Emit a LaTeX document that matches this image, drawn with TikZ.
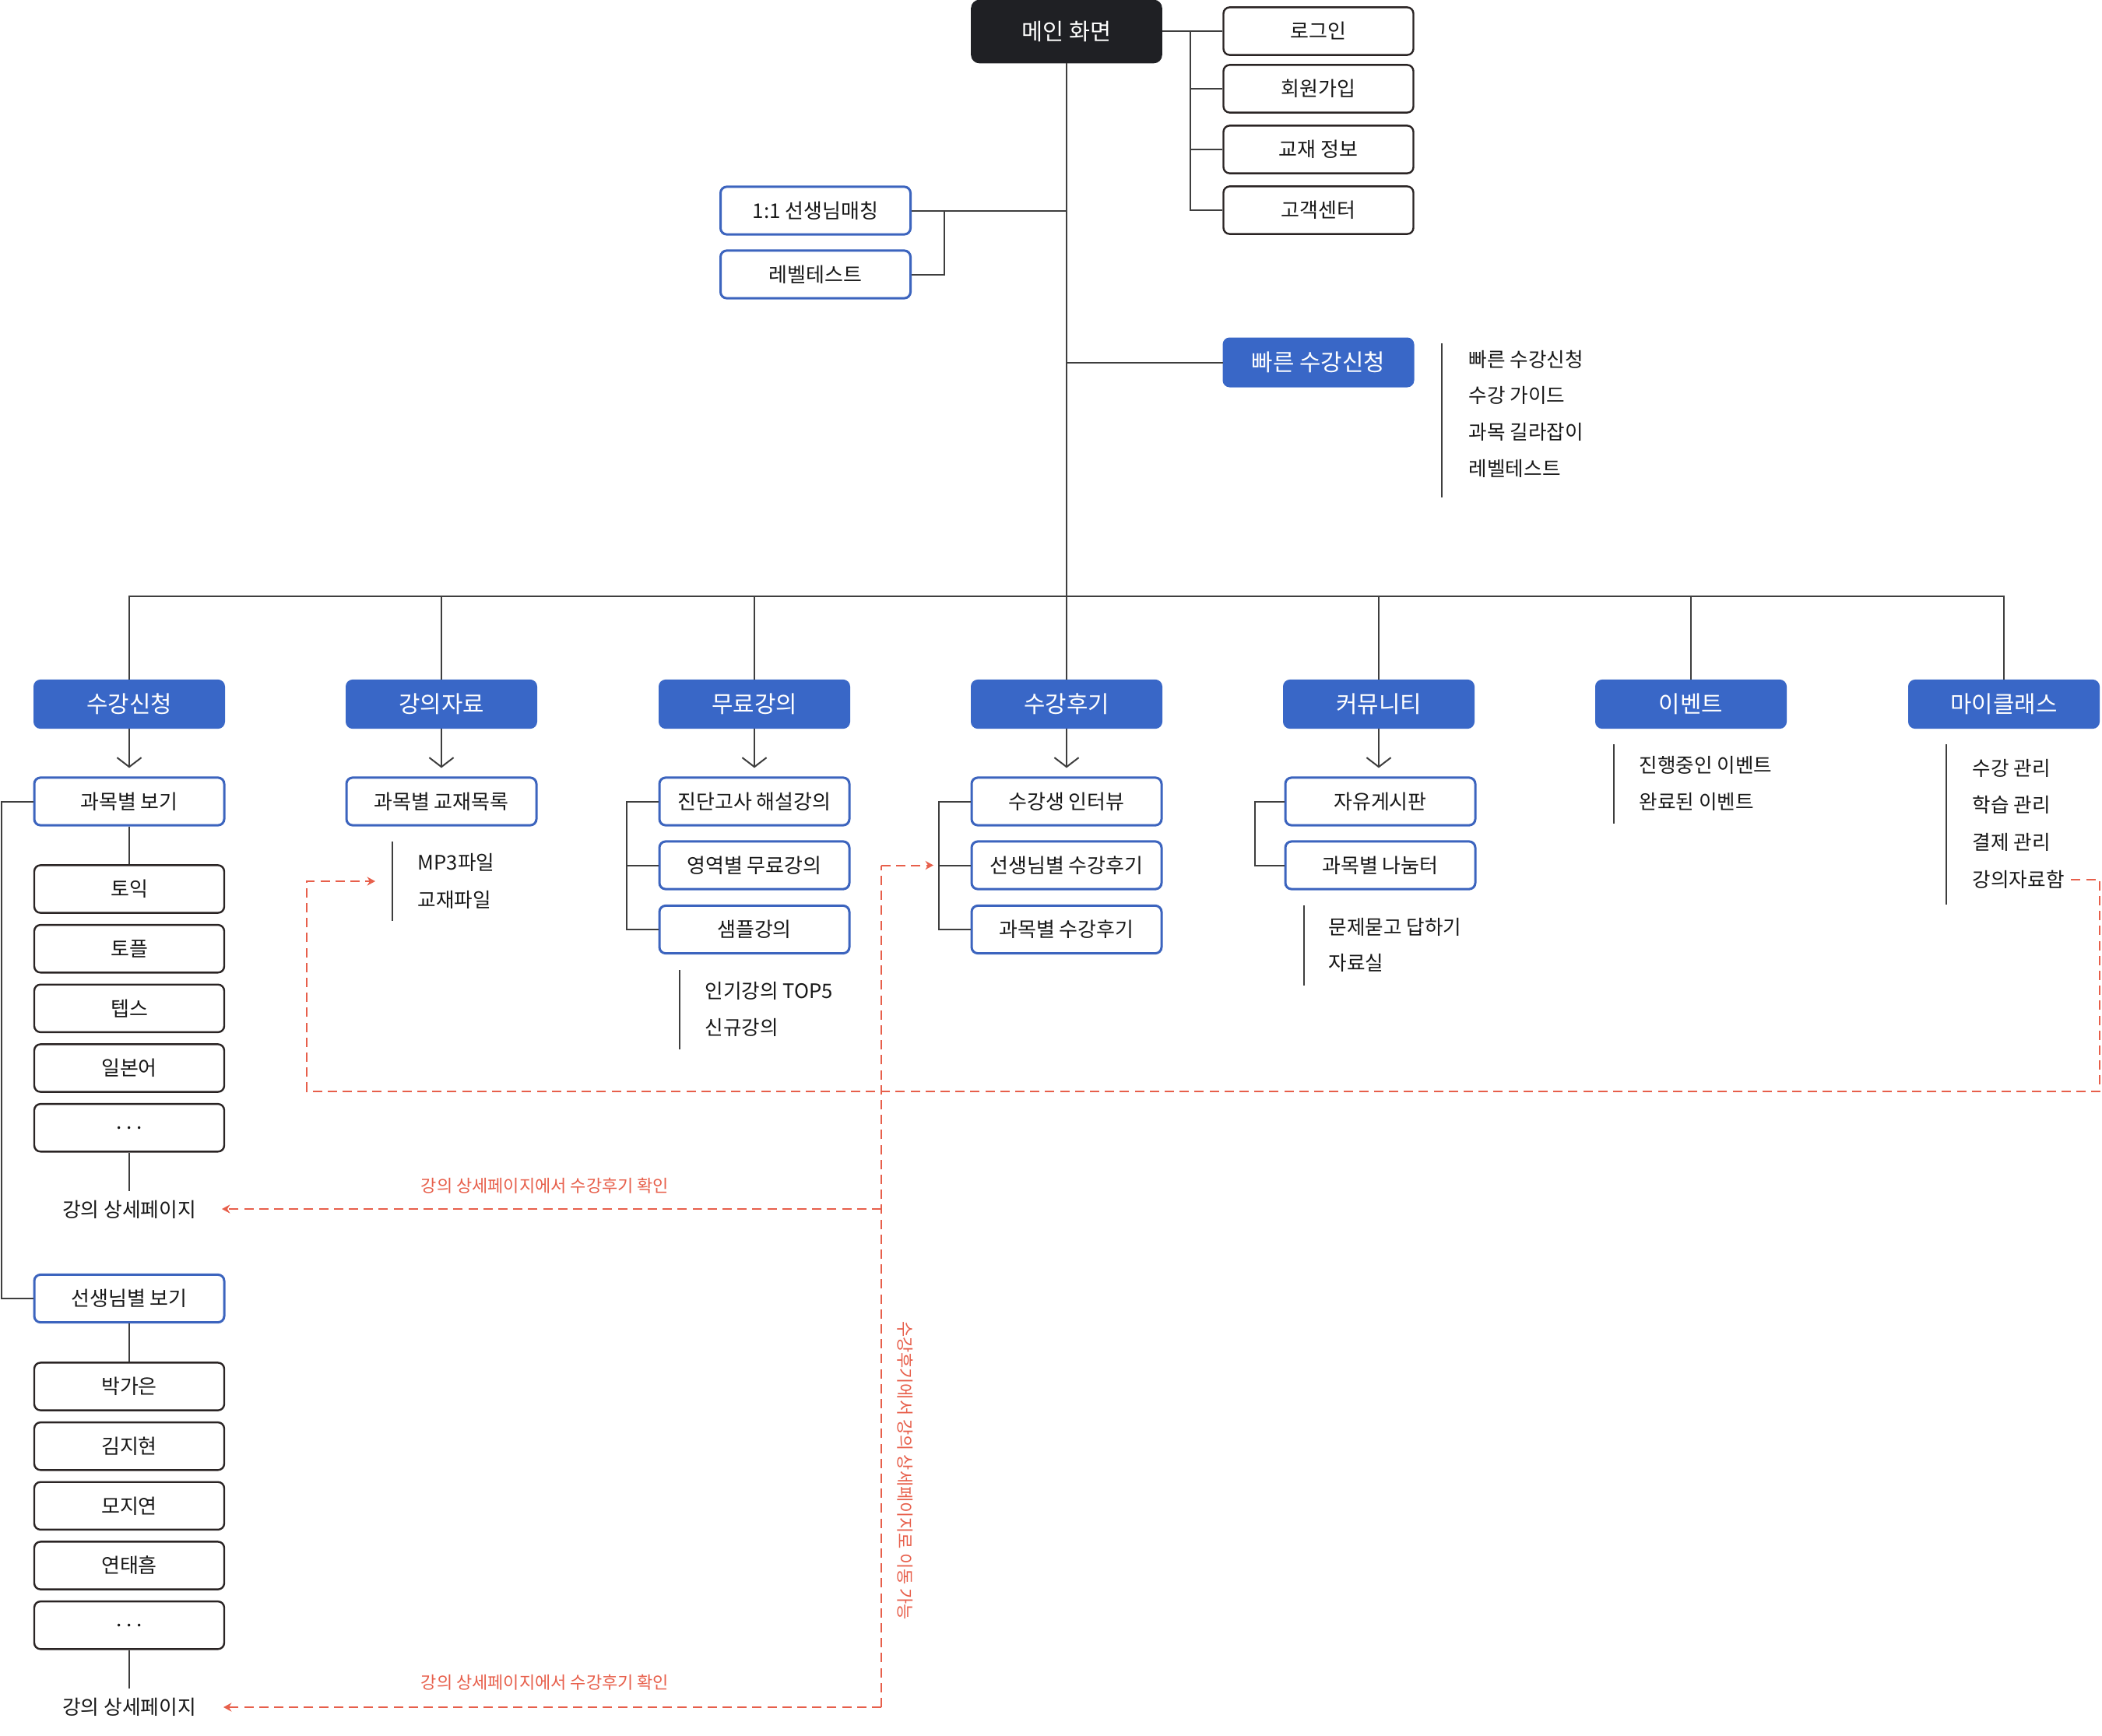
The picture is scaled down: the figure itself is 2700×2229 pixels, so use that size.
\documentclass[tikz,border=0pt]{standalone}
\usepackage{fontspec}
\setmainfont{Noto Sans CJK KR}
\usetikzlibrary{arrows.meta}

\definecolor{ink}{RGB}{24,24,24}
\definecolor{linec}{RGB}{62,62,62}
\definecolor{boxline}{RGB}{42,36,36}
\definecolor{blueline}{RGB}{60,100,190}
\definecolor{hdr}{RGB}{57,103,199}
\definecolor{maindark}{RGB}{31,32,36}
\definecolor{redc}{RGB}{231,95,75}

\tikzset{
  base/.style={rounded corners=2pt, minimum width=61pt, minimum height=15.3pt,
    inner sep=0pt, text=ink, font=\fontsize{6.5pt}{7.5pt}\selectfont},
  wbox/.style={base, draw=boxline, line width=0.6pt, fill=white},
  bbox/.style={base, draw=blueline, line width=0.75pt, fill=white},
  hbox/.style={base, fill=hdr, draw=hdr, line width=0.5pt, text=white,
    font=\fontsize{7.45pt}{8.5pt}\selectfont},
  mainbox/.style={base, rounded corners=2.5pt, fill=maindark, draw=maindark,
    text=white, minimum width=61pt, minimum height=20pt,
    font=\fontsize{7.35pt}{8.5pt}\selectfont},
  item/.style={anchor=west, inner sep=0pt, text=ink,
    font=\fontsize{6.4pt}{7.5pt}\selectfont},
  detail/.style={inner sep=3pt, text=ink, font=\fontsize{6.45pt}{7.5pt}\selectfont},
  conn/.style={draw=linec, line width=0.5pt},
  sepline/.style={draw=linec, line width=0.5pt},
  downarrow/.style={conn, -{Straight Barb[length=3pt,width=7.8pt]}, shorten >=2.75pt},
  reddash/.style={draw=redc, line width=0.5pt, dash pattern=on 3pt off 1.8pt},
  redtip/.style={-{Stealth[length=2.6pt,width=2.8pt]}},
  redlabel/.style={inner sep=0pt, text=redc, font=\fontsize{5.5pt}{6.5pt}\selectfont},
}

\begin{document}
\begin{tikzpicture}[x=0.25pt,y=-0.25pt]
\useasboundingbox (0,0) rectangle (2700,2229);

% ---------- top level ----------
\node[mainbox] (main) at (1370,40.5) {메인 화면};

\node[wbox] (r1) at (1693.5,40)  {로그인};
\node[wbox] (r2) at (1693.5,114) {회원가입};
\node[wbox] (r3) at (1693.5,192) {교재 정보};
\node[wbox] (r4) at (1693.5,270) {고객센터};

\node[bbox] (l1) at (1047.5,270.5) {1:1 선생님매칭};
\node[bbox] (l2) at (1047.5,352.5) {레벨테스트};

\node[hbox, minimum height=15.5pt] (fast) at (1693.5,465.5) {빠른 수강신청};
\node[item] (f1) at (1886,462) {빠른 수강신청};
\node[item] (f2) at (1886,508) {수강 가이드};
\node[item] (f3) at (1886,555) {과목 길라잡이};
\node[item] (f4) at (1886,602) {레벨테스트};
\draw[sepline] (1852,441) -- (1852,639);

\coordinate (bar) at (1370,766);
\coordinate (rbx) at (1529,40);
\coordinate (lbx) at (1213,270.5);

% trunk and top branches
\draw[conn] (main.south) -- (bar);
\draw[conn] (main.east |- r1.west) -- (r1.west);
\draw[conn] (rbx) |- (r2.west);
\draw[conn] (rbx) |- (r3.west);
\draw[conn] (rbx) |- (r4.west);
\draw[conn] (l1.east) -- (l1.east -| bar);
\draw[conn] (lbx) |- (l2.east);
\draw[conn] (fast.west -| bar) -- (fast.west);

% ---------- section headers ----------
\node[hbox] (h0) at (166,904.5)  {수강신청};
\node[hbox] (h1) at (567,904.5)  {강의자료};
\node[hbox] (h2) at (969,904.5)  {무료강의};
\node[hbox] (h3) at (1370,904.5) {수강후기};
\node[hbox] (h4) at (1771,904.5) {커뮤니티};
\node[hbox] (h5) at (2172,904.5) {이벤트};
\node[hbox] (h6) at (2574,904.5) {마이클래스};

\draw[conn] (h0.north) -- (h0.north |- bar) -- (h6.north |- bar) -- (h6.north);
\foreach \k in {1,...,5} \draw[conn] (h\k.north) -- (h\k.north |- bar);

% ---------- 수강신청 ----------
\node[bbox] (a0) at (166,1029.5) {과목별 보기};
\node[wbox] (a1) at (166,1142)   {토익};
\node[wbox] (a2) at (166,1218.7) {토플};
\node[wbox] (a3) at (166,1295.3) {텝스};
\node[wbox] (a4) at (166,1372)   {일본어};
\node[wbox] (a5) at (166,1448.7) {.\hspace{1.4pt}.\hspace{1.4pt}.};
\node[detail] (adet) at (166,1554) {강의 상세페이지};

\node[bbox] (b0) at (166,1668)   {선생님별 보기};
\node[wbox] (b1) at (166,1781)   {박가은};
\node[wbox] (b2) at (166,1857.7) {김지현};
\node[wbox] (b3) at (166,1934.3) {모지연};
\node[wbox] (b4) at (166,2011)   {연태흠};
\node[wbox] (b5) at (166,2087.7) {.\hspace{1.4pt}.\hspace{1.4pt}.};
\node[detail] (bdet) at (166,2193) {강의 상세페이지};

\draw[downarrow] (h0.south) -- (a0.north);
\draw[conn] (a0.south) -- (a1.north);
\draw[conn] (a5.south) -- (adet.north);
\draw[conn] (b0.south) -- (b1.north);
\draw[conn] (b5.south) -- (bdet.north);
\coordinate (lbar) at (2,1029.5);
\draw[conn] (a0.west) -- (lbar) |- (b0.west);

% ---------- 강의자료 ----------
\node[bbox] (c0) at (567,1029.5) {과목별 교재목록};
\draw[downarrow] (h1.south) -- (c0.north);
\node[item] (c1) at (536,1108) {MP3파일};
\node[item] (c2) at (536,1156) {교재파일};
\draw[sepline] (504,1081) -- (504,1183);

% ---------- 무료강의 ----------
\node[bbox] (d1) at (969,1029.5) {진단고사 해설강의};
\node[bbox] (d2) at (969,1111.5) {영역별 무료강의};
\node[bbox] (d3) at (969,1194)   {샘플강의};
\draw[downarrow] (h2.south) -- (d1.north);
\coordinate (dbx) at (805,1029.5);
\draw[conn] (d1.west) -- (dbx) |- (d3.west);
\draw[conn] (d2.west) -- (d2.west -| dbx);
\node[item] (d4) at (905,1272.5) {인기강의 TOP5};
\node[item] (d5) at (905,1320)   {신규강의};
\draw[sepline] (873,1246) -- (873,1348);

% ---------- 수강후기 ----------
\node[bbox] (e1) at (1370,1029.5) {수강생 인터뷰};
\node[bbox] (e2) at (1370,1111.5) {선생님별 수강후기};
\node[bbox] (e3) at (1370,1194)   {과목별 수강후기};
\draw[downarrow] (h3.south) -- (e1.north);
\coordinate (ebx) at (1206,1029.5);
\draw[conn] (e1.west) -- (ebx) |- (e3.west);
\draw[conn] (e2.west) -- (e2.west -| ebx);

% ---------- 커뮤니티 ----------
\node[bbox] (g1) at (1773,1029.5) {자유게시판};
\node[bbox] (g2) at (1773,1111.5) {과목별 나눔터};
\draw[downarrow] (h4.south) -- (h4.south |- g1.north);
\coordinate (gbx) at (1612,1029.5);
\draw[conn] (g1.west) -- (gbx) |- (g2.west);
\node[item] (g3) at (1706,1191) {문제묻고 답하기};
\node[item] (g4) at (1706,1237) {자료실};
\draw[sepline] (1675,1163) -- (1675,1266);

% ---------- 이벤트 ----------
\node[item] (k1) at (2105,983)  {진행중인 이벤트};
\node[item] (k2) at (2105,1030) {완료된 이벤트};
\draw[sepline] (2073,956) -- (2073,1058);

% ---------- 마이클래스 ----------
\node[item] (m1) at (2533,987)    {수강 관리};
\node[item] (m2) at (2533,1034)   {학습 관리};
\node[item] (m3) at (2533,1081.5) {결제 관리};
\node[item] (m4) at (2533,1130)   {강의자료함};
\draw[sepline] (2500,956) -- (2500,1162);

% ---------- cross links ----------
\coordinate (p1b) at (2697,1402);
\coordinate (p1c) at (394,1402);
\coordinate (p1tip) at (482,1132);
\draw[reddash, redtip] ([xshift=2pt]m4.east) -| (p1b) -- (p1c) |- (p1tip);

\coordinate (vtop) at (1132,1111.5);
\coordinate (vmid) at (1132,1553);
\coordinate (vbot) at (1132,2193);
\coordinate (e2tip) at (1199,1111.5);
\coordinate (atip) at (285,1553);
\coordinate (btip) at (287,2193);
\draw[reddash] (vbot) -- (vtop);
\draw[reddash, redtip] (vtop) -- (e2tip);
\draw[reddash, redtip] (vmid) -- (atip);
\draw[reddash, redtip] (vbot) -- (btip);

\node[redlabel] (lab1) at (700,1523) {강의 상세페이지에서 수강후기 확인};
\node[redlabel] (lab2) at (700,2161) {강의 상세페이지에서 수강후기 확인};
\node[redlabel, rotate=-90] (lab3) at (1163,1889) {수강후기에서 강의 상세페이지로 이동 가능};
\end{tikzpicture}
\end{document}
